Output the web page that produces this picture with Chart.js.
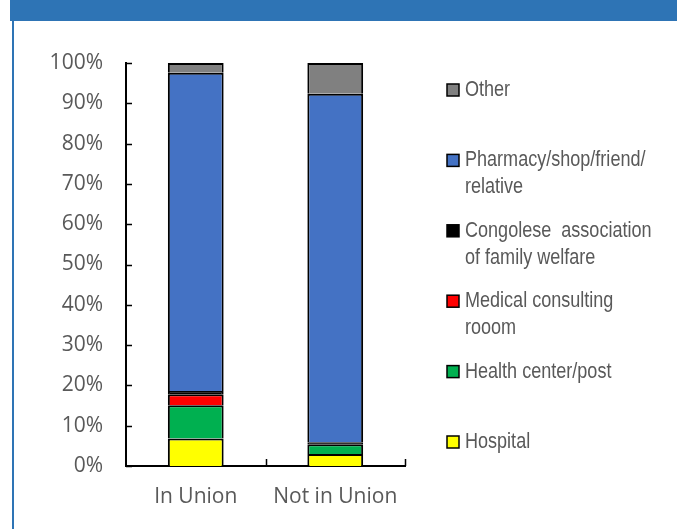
<!DOCTYPE html>
<html>
<head>
<meta charset="utf-8">
<script src="https://cdn.jsdelivr.net/npm/chart.js@4"></script>
<style>
  html, body { margin: 0; padding: 0; background: #fff; overflow: hidden; }
  .frame-top { position: absolute; left: 10px; top: 0; width: 667px; height: 21px; background: #2E74B5; }
  .frame-left { position: absolute; left: 12px; top: 21px; width: 2px; height: 508px; background: #2E74B5; }
  #chart { position: absolute; left: 0; top: 0; }
</style>
</head>
<body>
<div class="frame-top"></div>
<div class="frame-left"></div>
<canvas id="chart" width="677" height="529"></canvas>
<script>
// categories on the x axis
const groups = ['In Union', 'Not in Union'];

// series, bottom of the stack first (percent)
const seriesNames = [
  'Hospital',
  'Health center/post',
  'Medical consulting\nrooom',
  'Congolese  association\nof family welfare',
  'Pharmacy/shop/friend/\nrelative',
  'Other'
];
const seriesColors = ['#FFFF00', '#00B050', '#FF0000', '#000000', '#4472C4', '#808080'];

const hospital = [6.8, 3.0];
const healthCenter = [8.3, 2.4];
const medicalRoom = [2.7, 0.0];
const congolese = [0.8, 0.5];
const pharmacy = [79.0, 86.5];
const other = [2.4, 7.6];

const seriesValues = [hospital, healthCenter, medicalRoom, congolese, pharmacy, other];

const yTicks = [0, 10, 20, 30, 40, 50, 60, 70, 80, 90, 100];

const textGray = '#595959';

// small inward ticks on both axes
const innerTicks = {
  id: 'innerTicks',
  afterDraw(chart) {
    const { ctx, scales: { x, y } } = chart;
    ctx.save();
    ctx.strokeStyle = '#000';
    ctx.lineWidth = 1.5;
    ctx.beginPath();
    yTicks.forEach((v) => {
      const py = Math.round(y.getPixelForValue(v)) + 0.5;
      ctx.moveTo(x.left, py);
      ctx.lineTo(x.left + 6, py);
    });
    const step = (x.right - x.left) / groups.length;
    for (let i = 1; i <= groups.length; i++) {
      const px = Math.round(x.left + step * i) + 0.5;
      ctx.moveTo(px, y.bottom);
      ctx.lineTo(px, y.bottom - 7);
    }
    ctx.stroke();
    ctx.restore();
  }
};

// legend on the right, top item = top of stack
// text is squeezed horizontally to get a narrow face
const sideLegend = {
  id: 'sideLegend',
  afterDraw(chart) {
    const { ctx } = chart;
    const items = chart.data.datasets.map((ds) => ({ label: ds.label, color: ds.backgroundColor })).reverse();
    const startY = 90, gap = 70.4, lineH = 27;
    ctx.save();
    ctx.font = '22px "Liberation Sans", Arial, sans-serif';
    ctx.textBaseline = 'middle';
    ctx.textAlign = 'left';
    items.forEach((it, i) => {
      const cy = startY + gap * i;
      ctx.fillStyle = it.color;
      ctx.fillRect(447, cy - 6, 12, 12);
      ctx.strokeStyle = '#000';
      ctx.lineWidth = 1.5;
      ctx.strokeRect(447, cy - 6, 12, 12);
      ctx.fillStyle = textGray;
      it.label.split('\n').forEach((line, j) => {
        ctx.save();
        ctx.translate(465, cy + j * lineH);
        ctx.scale(0.82, 1);
        ctx.fillText(line, 0, 0);
        ctx.restore();
      });
    });
    ctx.restore();
  }
};

new Chart(document.getElementById('chart'), {
  type: 'bar',
  data: {
    labels: groups,
    datasets: seriesNames.map((name, i) => ({
      label: name,
      data: seriesValues[i],
      backgroundColor: seriesColors[i],
      borderColor: '#000',
      borderWidth: 2,
      categoryPercentage: 1.0,
      barPercentage: 0.4
    }))
  },
  options: {
    responsive: false,
    animation: false,
    layout: { padding: { top: 63, right: 272, bottom: 0, left: 0 } },
    plugins: {
      legend: { display: false },
      tooltip: { enabled: false }
    },
    scales: {
      x: {
        stacked: true,
        grid: { display: false, drawTicks: false },
        border: { display: true, color: '#000', width: 2 },
        ticks: {
          color: textGray,
          padding: 18,
          font: { family: '"Open Sans", sans-serif', size: 21 }
        },
        afterFit: (scale) => { scale.height = 63; }
      },
      y: {
        stacked: true,
        min: 0,
        max: 100,
        grid: { display: false, drawTicks: false },
        border: { display: true, color: '#000', width: 2 },
        ticks: {
          stepSize: 10,
          color: textGray,
          padding: 23,
          font: { family: '"Open Sans", sans-serif', size: 21 },
          callback: (v) => v + '%'
        },
        afterFit: (scale) => { scale.width = 126; }
      }
    }
  },
  plugins: [innerTicks, sideLegend]
});
</script>
</body>
</html>
